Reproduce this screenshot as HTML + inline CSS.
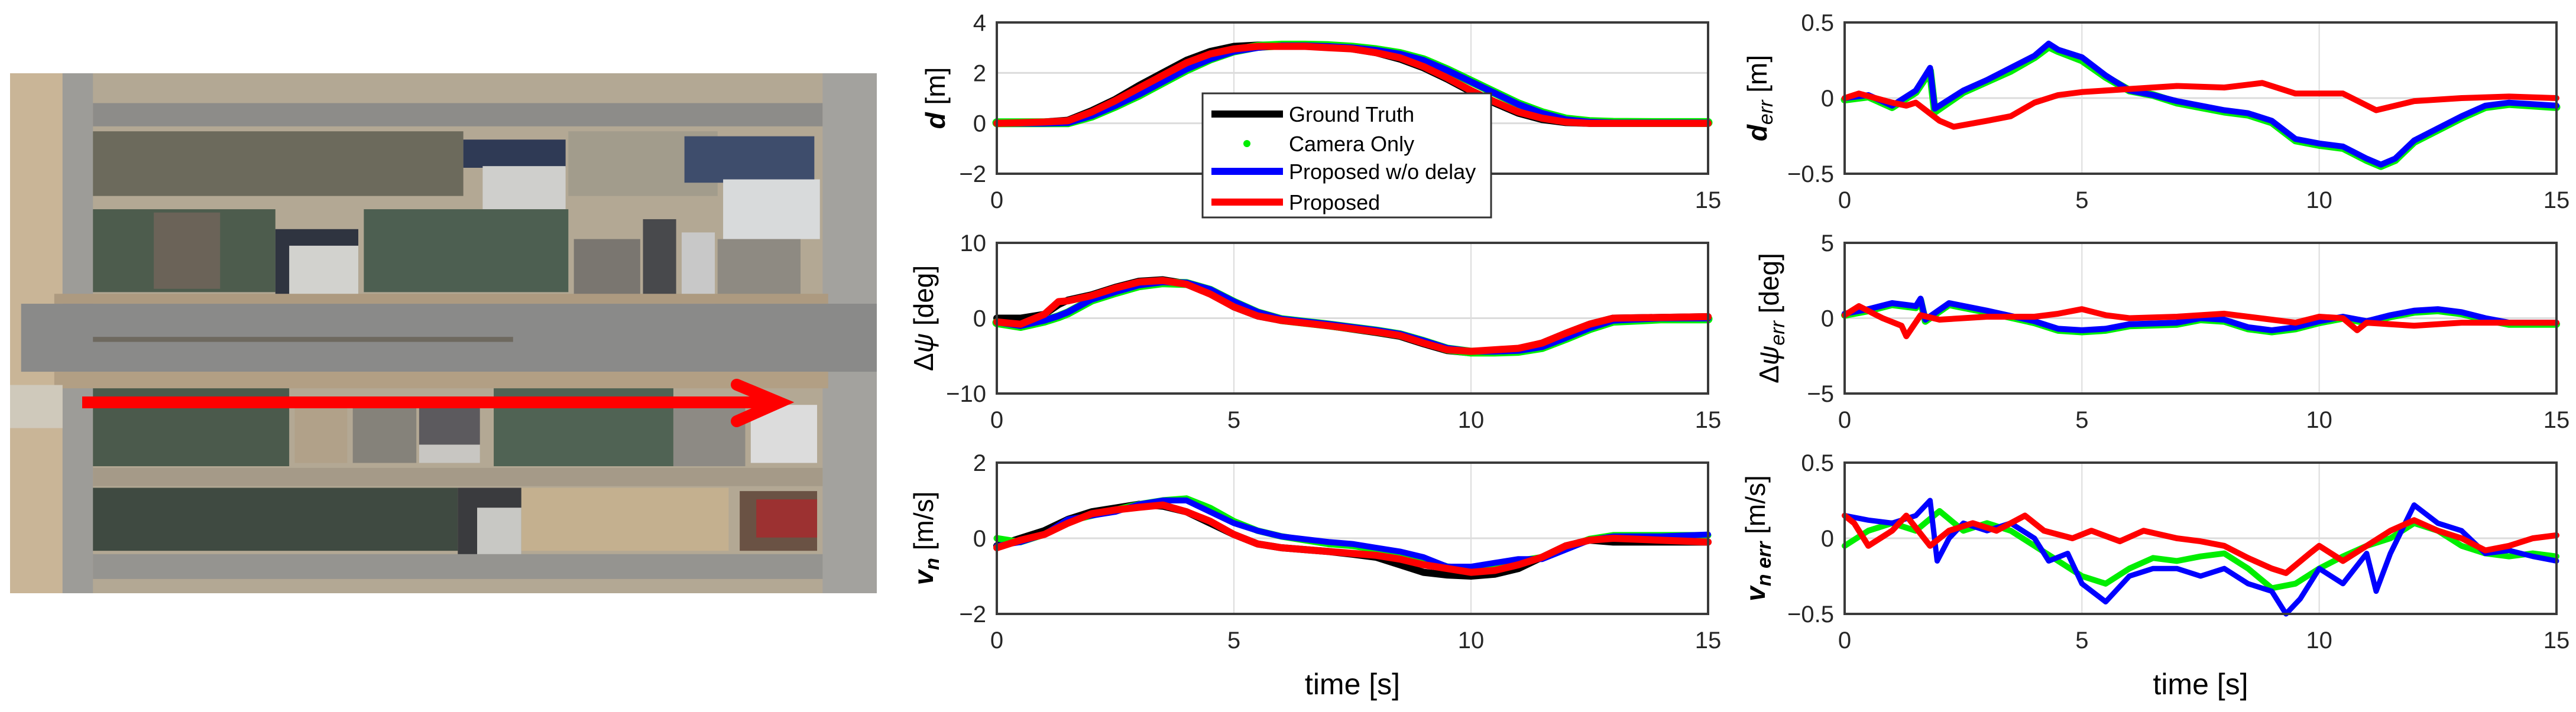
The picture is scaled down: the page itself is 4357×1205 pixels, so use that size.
<!DOCTYPE html>
<html><head><meta charset="utf-8"><style>
html,body{margin:0;padding:0;background:#fff;}
svg{display:block;font-family:"Liberation Sans",sans-serif;}
</style></head><body>
<svg id="fig" width="4357" height="1205" viewBox="0 0 4357 1205" xmlns="http://www.w3.org/2000/svg">
<g>
<svg x="17" y="124" width="1466" height="880" viewBox="0 0 1568 1568" preserveAspectRatio="none">
<rect x="0" y="0" width="1568" height="1568" fill="#b3a894"/>
<rect x="0" y="0" width="95" height="1568" fill="#c9b597"/>
<rect x="95" y="0" width="55" height="1568" fill="#9d9c98"/>
<rect x="150" y="90" width="1320" height="70" fill="#8d8c89"/>
<rect x="1470" y="0" width="98" height="1568" fill="#a3a29e"/>
<rect x="150" y="175" width="670" height="195" fill="#6c6a5c"/>
<rect x="1010" y="175" width="270" height="195" fill="#a29c8c"/>
<rect x="820" y="200" width="185" height="85" fill="#2f3a55"/>
<rect x="855" y="280" width="150" height="130" fill="#cfcfcc"/>
<rect x="1220" y="190" width="235" height="140" fill="#3e4d6c"/>
<rect x="1290" y="320" width="175" height="180" fill="#d8dadb"/>
<rect x="150" y="410" width="330" height="250" fill="#4d5c4d"/>
<rect x="260" y="420" width="120" height="230" fill="#6b6358"/>
<rect x="480" y="470" width="150" height="220" fill="#2f3440"/>
<rect x="505" y="520" width="125" height="170" fill="#d2d2ce"/>
<rect x="640" y="410" width="370" height="250" fill="#4d5f51"/>
<rect x="1020" y="500" width="120" height="180" fill="#7a7670"/>
<rect x="1145" y="440" width="60" height="250" fill="#48494c"/>
<rect x="1215" y="480" width="60" height="220" fill="#c8c8c8"/>
<rect x="1280" y="500" width="150" height="190" fill="#8e8a82"/>
<rect x="80" y="665" width="1400" height="30" fill="#ad9a80"/>
<rect x="20" y="695" width="1548" height="205" fill="#8a8a89"/>
<rect x="150" y="795" width="760" height="15" fill="#6e695f"/>
<rect x="80" y="900" width="1400" height="50" fill="#b29f84"/>
<rect x="150" y="950" width="355" height="235" fill="#4b5a4c"/>
<rect x="515" y="995" width="95" height="180" fill="#b1a189"/>
<rect x="620" y="995" width="115" height="180" fill="#85827a"/>
<rect x="740" y="990" width="110" height="130" fill="#5c5a5e"/>
<rect x="740" y="1120" width="110" height="55" fill="#c8c6c2"/>
<rect x="875" y="950" width="325" height="235" fill="#506354"/>
<rect x="1200" y="980" width="130" height="205" fill="#8d8a84"/>
<rect x="1340" y="1000" width="120" height="175" fill="#dcdcdc"/>
<rect x="150" y="1190" width="1320" height="55" fill="#a59a88"/>
<rect x="150" y="1250" width="660" height="190" fill="#3f4a41"/>
<rect x="810" y="1250" width="115" height="220" fill="#3a3b3e"/>
<rect x="845" y="1310" width="80" height="160" fill="#c8c8c4"/>
<rect x="925" y="1250" width="375" height="190" fill="#c4b08f"/>
<rect x="1320" y="1260" width="140" height="180" fill="#6a5244"/>
<rect x="1350" y="1285" width="110" height="115" fill="#9c3131"/>
<rect x="150" y="1450" width="1320" height="75" fill="#959490"/>
<rect x="0" y="940" width="95" height="130" fill="#cfc9bb"/>
</svg>
<line x1="139" y1="681" x2="1310" y2="681" stroke="#ff0000" stroke-width="20"/>
<polyline points="1246,651 1318,681 1246,713" fill="none" stroke="#ff0000" stroke-width="20" stroke-linecap="round" stroke-linejoin="miter"/>
</g>
<g id="plots"></g>
</svg>
<script>
// ---- data (time in s) ----
const dT_ref = [0,0.5,1,1.5,2,2.5,3,3.5,4,4.5,5,5.5,6,6.5,7,7.5,8,8.5,9,9.5,10,10.5,11,11.5,12,12.5,13,14,15];
const d_gt   = [0,0.02,0.05,0.12,0.5,0.95,1.5,2.0,2.5,2.85,3.05,3.1,3.1,3.1,3.05,2.95,2.8,2.55,2.2,1.75,1.25,0.8,0.4,0.15,0.03,0,0,0,0];
const d_cam  = [0.02,0.02,0.02,0.02,0.28,0.68,1.12,1.62,2.12,2.55,2.87,3.05,3.1,3.1,3.08,3.02,2.92,2.77,2.52,2.12,1.67,1.22,0.77,0.42,0.17,0.07,0.04,0.03,0.03];
const d_nod  = [0,0,0,0.02,0.3,0.7,1.15,1.65,2.15,2.55,2.85,3.0,3.08,3.08,3.05,3.0,2.9,2.75,2.5,2.1,1.65,1.2,0.75,0.4,0.15,0.05,0.02,0.02,0.02];
const d_prop = [0,0.02,0.05,0.1,0.45,0.9,1.4,1.9,2.4,2.75,2.95,3.05,3.05,3.05,3.0,2.95,2.8,2.6,2.25,1.8,1.3,0.85,0.45,0.2,0.05,0,0,0,0];

const derrT_nod = [0,0.5,1,1.5,1.8,1.9,2.5,3,3.5,4,4.3,4.5,5,5.5,6,6.5,7,7.5,8,8.5,9,9.5,10,10.5,11,11.3,11.6,12,12.5,13,13.5,14,15];
const derr_nod  = [0,0.02,-0.05,0.05,0.2,-0.07,0.05,0.12,0.2,0.28,0.36,0.32,0.27,0.15,0.05,0.02,-0.02,-0.05,-0.08,-0.1,-0.15,-0.27,-0.3,-0.32,-0.4,-0.44,-0.4,-0.28,-0.2,-0.12,-0.05,-0.03,-0.05];
const derr_cam  = [-0.01,0.01,-0.06,0.04,0.18,-0.09,0.04,0.11,0.18,0.27,0.34,0.31,0.25,0.14,0.05,0.02,-0.03,-0.06,-0.09,-0.11,-0.16,-0.28,-0.31,-0.33,-0.41,-0.45,-0.41,-0.29,-0.21,-0.13,-0.06,-0.04,-0.06];
const derrT_prop = [0,0.3,1,1.3,1.5,2,2.3,3,3.5,4,4.5,5,6,7,8,8.8,9.5,10.5,11.2,12,13,14,15];
const derr_prop  = [0,0.03,-0.03,-0.05,-0.03,-0.15,-0.19,-0.15,-0.12,-0.03,0.02,0.04,0.06,0.08,0.07,0.1,0.03,0.03,-0.08,-0.02,0,0.01,0];

const pT = [0,0.5,1,1.3,1.5,2,2.5,3,3.5,4,4.5,5,5.5,6,7,8,8.5,9,9.5,10,10.5,11,11.5,12,12.5,13,14,15];
const p_gt   = [0,0,0.5,1.8,2.4,3.1,4.1,4.9,5.1,4.6,3.3,1.5,0.3,-0.3,-1.0,-1.9,-2.4,-3.4,-4.3,-4.6,-4.4,-4.1,-3.3,-2.0,-0.8,0,0.1,0.2];
const p_nod  = [-0.5,-1.0,-0.3,0.3,0.8,2.5,3.5,4.4,4.8,4.7,3.8,2.2,0.8,-0.1,-0.8,-1.6,-2.1,-3.0,-4.0,-4.4,-4.4,-4.3,-3.8,-2.6,-1.3,-0.3,0,0];
const p_cam  = [-0.6,-1.1,-0.4,0.2,0.7,2.4,3.4,4.3,4.7,4.6,3.7,2.1,0.7,-0.2,-0.9,-1.7,-2.2,-3.1,-4.1,-4.5,-4.5,-4.4,-3.9,-2.7,-1.4,-0.4,-0.1,-0.1];
const p_prop = [-0.5,-0.8,0.5,2.2,2.3,3.0,4.0,4.8,5.0,4.5,3.2,1.5,0.3,-0.3,-1.0,-1.8,-2.3,-3.3,-4.2,-4.4,-4.2,-4.0,-3.3,-2.0,-0.8,0,0.1,0.2];

const perrT_nod = [0,0.5,1,1.5,1.6,1.7,2.2,3,4,4.5,5,5.5,6,7,7.5,8,8.5,9,9.5,10,10.5,11,11.5,12,12.5,13,13.5,14,15];
const perr_nod  = [0.3,0.6,1.0,0.8,1.3,-0.1,1.0,0.5,-0.2,-0.7,-0.8,-0.7,-0.4,-0.3,0,-0.1,-0.6,-0.8,-0.6,-0.2,0.1,-0.2,0.2,0.5,0.6,0.4,0,-0.3,-0.3];
const perr_cam  = [0.2,0.5,0.9,0.7,1.2,-0.2,0.9,0.4,-0.3,-0.8,-0.9,-0.8,-0.5,-0.4,-0.1,-0.2,-0.7,-0.9,-0.7,-0.3,0,-0.3,0.1,0.4,0.5,0.3,-0.1,-0.4,-0.4];
const perrT_prop = [0,0.3,0.8,1.2,1.3,1.6,2,3,4,4.5,5,5.5,6,7,8,9,9.5,10,10.5,10.8,11,12,13,14,15];
const perr_prop  = [0.2,0.8,0,-0.5,-1.2,0.2,-0.1,0.1,0.1,0.3,0.6,0.2,0,0.1,0.3,-0.1,-0.3,0.1,0,-0.8,-0.3,-0.5,-0.3,-0.3,-0.3];

const vT = [0,0.5,1,1.5,2,2.5,3,3.5,4,4.5,5,5.5,6,7,7.5,8,8.5,9,9.5,10,10.5,11,11.5,12,12.5,13,14,15];
const v_gt   = [-0.2,0,0.2,0.5,0.7,0.8,0.9,0.85,0.7,0.4,0.1,-0.15,-0.25,-0.35,-0.42,-0.5,-0.7,-0.9,-0.97,-1.0,-0.95,-0.8,-0.5,-0.2,-0.05,-0.1,-0.1,-0.1];
const v_cam  = [0,-0.1,0.1,0.45,0.6,0.75,0.9,1.0,1.05,0.8,0.45,0.2,0.05,-0.15,-0.2,-0.3,-0.4,-0.55,-0.75,-0.8,-0.7,-0.6,-0.5,-0.25,-0.02,0.08,0.08,0.08];
const v_nod  = [-0.2,-0.1,0.1,0.5,0.6,0.7,0.9,1.0,1.0,0.7,0.4,0.2,0.05,-0.1,-0.15,-0.25,-0.35,-0.5,-0.75,-0.75,-0.65,-0.55,-0.55,-0.3,-0.05,0.05,0.05,0.1];
const v_prop = [-0.25,-0.05,0.1,0.4,0.65,0.75,0.82,0.88,0.7,0.45,0.1,-0.15,-0.25,-0.35,-0.4,-0.45,-0.55,-0.7,-0.8,-0.9,-0.85,-0.7,-0.5,-0.2,-0.05,0,-0.05,-0.1];

const verrT_nod = [0,0.5,1,1.5,1.8,1.95,2.2,2.5,3,3.5,4,4.3,4.7,5,5.5,6,6.5,7,7.5,8,8.5,9,9.3,9.6,10,10.5,11,11.2,11.5,12,12.5,13,13.5,14,14.5,15];
const verr_nod  = [0.15,0.12,0.1,0.15,0.25,-0.15,0,0.1,0.05,0.1,0,-0.15,-0.1,-0.3,-0.42,-0.25,-0.2,-0.2,-0.25,-0.2,-0.3,-0.35,-0.5,-0.4,-0.2,-0.3,-0.1,-0.35,-0.1,0.22,0.1,0.05,-0.1,-0.08,-0.12,-0.15];
const verrT_cam = [0,0.5,1,1.5,2,2.5,3,3.5,4,4.5,5,5.5,6,6.5,7,7.5,8,8.5,9,9.5,10,10.5,11,11.5,12,12.5,13,13.5,14,14.5,15];
const verr_cam  = [-0.05,0.05,0.1,0.05,0.18,0.05,0.1,0.05,-0.05,-0.15,-0.25,-0.3,-0.2,-0.13,-0.15,-0.12,-0.1,-0.2,-0.33,-0.3,-0.2,-0.12,-0.05,0,0.1,0.05,-0.05,-0.1,-0.12,-0.1,-0.12];
const verrT_prop = [0,0.2,0.5,1,1.3,1.8,2.2,2.7,3.2,3.8,4.2,4.8,5.2,5.8,6.3,7,7.5,8,8.5,9,9.3,9.8,10,10.5,11,11.5,12,12.5,13,13.5,14,14.5,15];
const verr_prop  = [0.15,0.1,-0.05,0.05,0.15,-0.05,0.05,0.1,0.05,0.15,0.05,0,0.05,-0.02,0.05,0,-0.02,-0.05,-0.13,-0.2,-0.23,-0.1,-0.05,-0.15,-0.05,0.05,0.12,0.05,0,-0.08,-0.05,0,0.02];

const xTickVals = [0,5,10,15];
const yTicksD = [4,2,0,-2];
const yTicksPsi = [10,0,-10];
const yTicksV = [2,0,-2];
const yTicksErrHalf = [0.5,0,-0.5];
const yTicksErr5 = [5,0,-5];
const seriesNames = ["Ground Truth","Camera Only","Proposed w/o delay","Proposed"];

// ---- drawing ----
const NS = "http://www.w3.org/2000/svg";
const root = document.getElementById("plots");
function mk(tag, attrs, parent) {
  const e = document.createElementNS(NS, tag);
  for (const k in attrs) e.setAttribute(k, attrs[k]);
  (parent || root).appendChild(e);
  return e;
}
const COLS = { gt: "#000000", cam: "#00ee00", nod: "#0000ff", prop: "#ff0000" };

function panel(p) {
  const g = mk("g", {});
  
  
  const x0 = p.x0, x1 = p.x1, y0 = p.y0, y1 = p.y1;
  const ymax = p.yticks[0], ymin = p.yticks[p.yticks.length - 1];
  const sx = t => x0 + (t - 0) / 15 * (x1 - x0);
  const sy = v => y1 - (v - ymin) / (ymax - ymin) * (y1 - y0);
  mk("rect", { x: x0, y: y0, width: x1 - x0, height: y1 - y0, fill: "#fff" }, g);
  // grid
  xTickVals.forEach(t => {
    if (t > 0 && t < 15) {
      const l = mk("line", { x1: sx(t), x2: sx(t), y1: y0, y2: y1, stroke: "#dcdcdc", "stroke-width": 2 }, g);
      
      
    }
    const tx = mk("text", { x: sx(t), y: y1 + 58, "font-size": 40, "text-anchor": "middle", fill: "#262626" }, g);
    
    
    tx.textContent = t;
  });
  p.yticks.forEach(v => {
    if (v < ymax && v > ymin) {
      const l = mk("line", { x1: x0, x2: x1, y1: sy(v), y2: sy(v), stroke: "#dcdcdc", "stroke-width": 3 }, g);
      
      
    }
    const tx = mk("text", { x: x0 - 18, y: sy(v) + 14, "font-size": 40, "text-anchor": "end", fill: "#262626" }, g);
    
    
    tx.textContent = String(v).replace("-", "\u2212");
  });
  // series
  p.series.forEach(s => {
    const pts = s.t.map((t, i) => sx(t).toFixed(1) + "," + sy(s.v[i]).toFixed(1)).join(" ");
    const pl = mk("polyline", { points: pts, fill: "none", stroke: COLS[s.key], "stroke-width": s.w, "stroke-linejoin": "round", "stroke-linecap": "round" }, g);
    
    
  });
  // box
  const b = mk("rect", { x: x0, y: y0, width: x1 - x0, height: y1 - y0, fill: "none", stroke: "#3a3a3a", "stroke-width": 4 }, g);
  
  
  // y label
  const cy = (y0 + y1) / 2;
  const yl = mk("text", { x: 0, y: 0, "font-size": 46, "text-anchor": "middle", fill: "#000", transform: "translate(" + p.lx + "," + cy + ") rotate(-90)" }, g);
  
  
  yl.innerHTML = p.label;
  if (p.xlabel) {
    const xl = mk("text", { x: (x0 + x1) / 2, y: y1 + 136, "font-size": 50, "text-anchor": "middle", fill: "#000" }, g);
    
    
    xl.textContent = "time [s]";
  }
  return g;
}

const L = { x0: 1686, x1: 2889 }, R = { x0: 3120, x1: 4324 };
const rows = [{ y0: 38, y1: 294 }, { y0: 411, y1: 666 }, { y0: 783, y1: 1039 }];

panel({ name: "d-plot", ...L, ...rows[0], yticks: yTicksD, lx: 1598,
  label: '<tspan font-weight="bold" font-style="italic">d</tspan> [m]',
  series: [{ key: "gt", t: dT_ref, v: d_gt, w: 12 }, { key: "cam", t: dT_ref, v: d_cam, w: 15 },
           { key: "nod", t: dT_ref, v: d_nod, w: 11 }, { key: "prop", t: dT_ref, v: d_prop, w: 12 }] });
panel({ name: "d-err-plot", ...R, ...rows[0], yticks: yTicksErrHalf, lx: 2988,
  label: '<tspan font-weight="bold" font-style="italic">d</tspan><tspan font-style="italic" font-size="34" dy="10">err</tspan><tspan dy="-10"> [m]</tspan>',
  series: [{ key: "cam", t: derrT_nod, v: derr_cam, w: 13 }, { key: "nod", t: derrT_nod, v: derr_nod, w: 10 },
           { key: "prop", t: derrT_prop, v: derr_prop, w: 10 }] });
panel({ name: "psi-plot", ...L, ...rows[1], yticks: yTicksPsi, lx: 1578,
  label: 'Δ<tspan font-style="italic">ψ</tspan> [deg]',
  series: [{ key: "gt", t: pT, v: p_gt, w: 12 }, { key: "cam", t: pT, v: p_cam, w: 15 },
           { key: "nod", t: pT, v: p_nod, w: 11 }, { key: "prop", t: pT, v: p_prop, w: 12 }] });
panel({ name: "psi-err-plot", ...R, ...rows[1], yticks: yTicksErr5, lx: 3008,
  label: 'Δ<tspan font-style="italic">ψ</tspan><tspan font-style="italic" font-size="34" dy="10">err</tspan><tspan dy="-10"> [deg]</tspan>',
  series: [{ key: "cam", t: perrT_nod, v: perr_cam, w: 12 }, { key: "nod", t: perrT_nod, v: perr_nod, w: 10 },
           { key: "prop", t: perrT_prop, v: perr_prop, w: 10 }] });
panel({ name: "vn-plot", ...L, ...rows[2], yticks: yTicksV, lx: 1578, xlabel: true,
  label: '<tspan font-weight="bold" font-style="italic">v</tspan><tspan font-weight="bold" font-style="italic" font-size="34" dy="10">n</tspan><tspan dy="-10"> [m/s]</tspan>',
  series: [{ key: "gt", t: vT, v: v_gt, w: 12 }, { key: "cam", t: vT, v: v_cam, w: 11 },
           { key: "nod", t: vT, v: v_nod, w: 10 }, { key: "prop", t: vT, v: v_prop, w: 12 }] });
panel({ name: "vn-err-plot", ...R, ...rows[2], yticks: yTicksErrHalf, lx: 2985, xlabel: true,
  label: '<tspan font-weight="bold" font-style="italic">v</tspan><tspan font-weight="bold" font-style="italic" font-size="34" dy="10">n err</tspan><tspan dy="-10"> [m/s]</tspan>',
  series: [{ key: "cam", t: verrT_cam, v: verr_cam, w: 10 }, { key: "nod", t: verrT_nod, v: verr_nod, w: 9 },
           { key: "prop", t: verrT_prop, v: verr_prop, w: 10 }] });

// legend
const lg = mk("g", {});


mk("rect", { x: 2034, y: 158, width: 488, height: 210, fill: "#fff", stroke: "#333", "stroke-width": 3 }, lg);
const legendKeys = ["gt", "cam", "nod", "prop"];
const legendY = [193, 243, 290, 342];
legendKeys.forEach((k, i) => {
  const e = mk("g", {}, lg);
  
  
  if (k === "cam") mk("circle", { cx: 2109, cy: legendY[i], r: 6, fill: COLS[k] }, e);
  else mk("line", { x1: 2049, x2: 2170, y1: legendY[i], y2: legendY[i], stroke: COLS[k], "stroke-width": 12 }, e);
  const t = mk("text", { x: 2180, y: legendY[i] + 13, "font-size": 36, fill: "#000" }, e);
  t.textContent = seriesNames[i];
});
</script>
</body></html>
